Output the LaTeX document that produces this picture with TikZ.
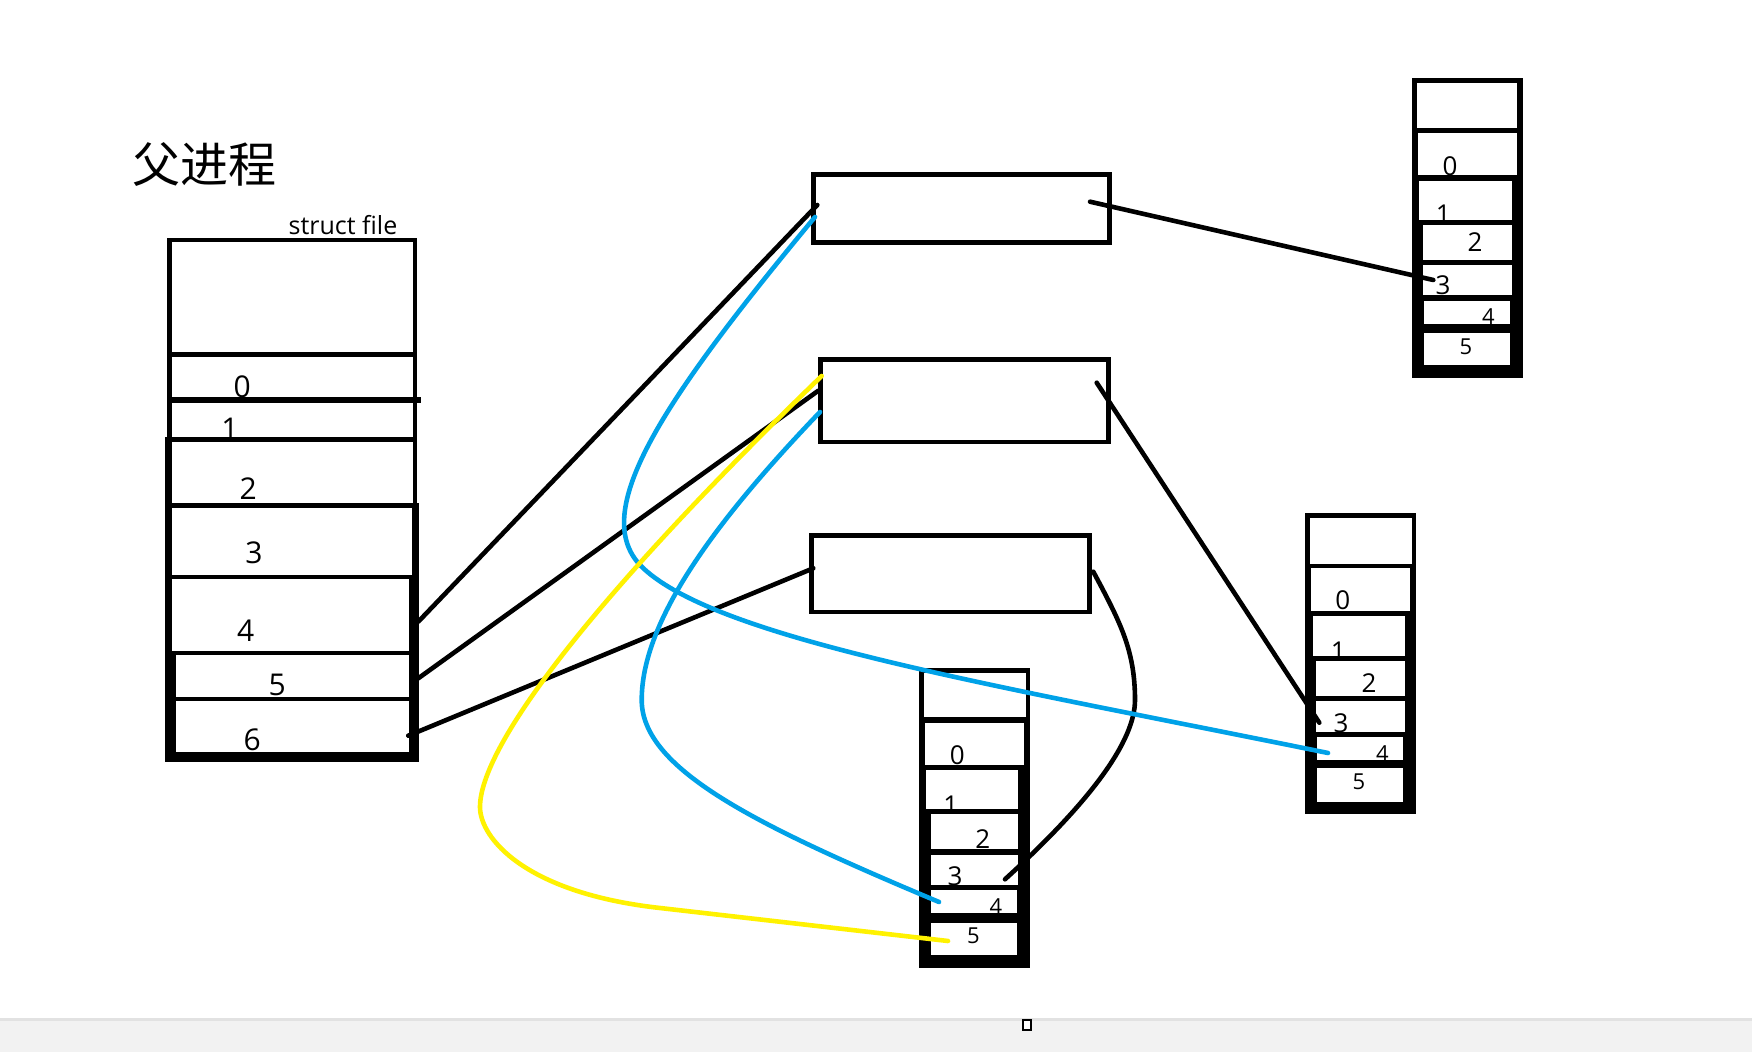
\documentclass[tikz,border=0pt]{standalone}
\usepackage{fontspec}
\setmainfont{Open Sans}
\newfontfamily\cjk{Noto Sans CJK SC}
\definecolor{paintblue}{HTML}{00A2E8}
\definecolor{paintyellow}{HTML}{FFF200}
\definecolor{bandgray}{HTML}{F2F2F2}
\definecolor{bandline}{HTML}{E2E2E2}
\begin{document}
\begin{tikzpicture}[x=0.5pt,y=-0.5pt,
  ink/.style={line width=2.3pt, line cap=round, line join=round},
  blk/.style={ink, draw=black},
  blu/.style={ink, draw=paintblue},
  yel/.style={ink, draw=paintyellow},
  filebox/.style={draw=black, line width=2.3pt, inner sep=0pt, fill=none},
  dbig/.style={inner sep=0pt, font=\fontsize{15}{15}\selectfont},
  dmid/.style={inner sep=0pt, font=\fontsize{13}{13}\selectfont},
  dsml/.style={inner sep=0pt, font=\fontsize{11}{11}\selectfont},
  cell/.style={fill=white}
]
\useasboundingbox (0,0) rectangle (1752,1052);
\fill[white] (0,0) rectangle (1752,1052);
% bottom band
\fill[bandgray] (0,1019) rectangle (1752,1052);
\fill[bandline] (0,1018) rectangle (1752,1021);
\draw[line width=1pt, fill=white] (1023,1020) rectangle (1031,1030);

% title
\node[inner sep=0pt, font=\cjk\fontsize{24}{24}\selectfont] (title) at (204,165) {父进程};
\node[inner sep=0pt, anchor=base, font=\fontsize{12.5}{12.5}\selectfont] (sf) at (343,235) {struct file};

% ---- left table (parent fd table)
\fill (166.7,237.7) rectangle (417,762);
\fill (412,396.7) rectangle (420.7,403.3);
\fill (416,503) rectangle (418.5,762);
\fill (165,437) rectangle (168,762);
\fill[cell] (171.7,241.7) rectangle (412.7,351.7);
\fill[cell] (171.7,356.7) rectangle (412.7,396.7);
\fill[cell] (171.7,403.3) rectangle (412.7,437);
\fill[cell] (171.7,441.7) rectangle (412.7,502.7);
\fill[cell] (171.7,507.7) rectangle (411.7,575);
\fill[cell] (171.7,579.3) rectangle (409.3,650.7);
\fill[cell] (176,655) rectangle (409.3,696.7);
\fill[cell] (176,701) rectangle (409.3,751.7);
\node[dbig] (l0) at (242.3,386.7) {0};
\node[dbig] (l1) at (230,428.3) {1};
\node[dbig] (l2) at (248.3,488.3) {2};
\node[dbig] (l3) at (254,552.3) {3};
\node[dbig] (l4) at (245.7,630.7) {4};
\node[dbig] (l5) at (277.3,685) {5};
\node[dbig] (l6) at (252.3,740) {6};

% ---- right-top table
\fill (1412,78) rectangle (1523,378);
\fill[cell] (1416.7,82.7) rectangle (1516.7,128.3);
\fill[cell] (1418.3,132.7) rectangle (1516.7,175);
\fill[cell] (1419.3,180.7) rectangle (1511.7,220);
\fill[cell] (1423.3,225) rectangle (1511.7,260);
\fill[cell] (1423.3,265) rectangle (1511.7,295);
\fill[cell] (1424.3,300.7) rectangle (1510,324);
\fill[cell] (1424.3,332.7) rectangle (1510,365);
\node[dmid] (a0) at (1450,166) {0};
\node[dmid] (a1) at (1443.3,214) {1};
\node[dmid] (a2) at (1475,241.7) {2};
\node[dmid] (a3) at (1443,285) {3};
\node[dsml] (a4) at (1488.3,316.7) {4};
\node[dsml] (a5) at (1466,346.7) {5};

% ---- right-middle table
\fill (1305,513.3) rectangle (1416,814);
\fill[cell] (1310,518.3) rectangle (1411.7,564);
\fill[cell] (1310.7,568.3) rectangle (1410,610.7);
\fill[cell] (1312.7,616) rectangle (1405,656);
\fill[cell] (1316,660.7) rectangle (1405,696);
\fill[cell] (1316,700.7) rectangle (1405,731.7);
\fill[cell] (1316.7,736.7) rectangle (1403.3,760);
\fill[cell] (1316.7,768.3) rectangle (1403.3,801.7);
\node[dmid] (b0) at (1342.7,600) {0};
\node[dmid] (b1) at (1338.3,651.7) {1};
\node[dmid] (b2) at (1369,683.3) {2};
\node[dmid] (b3) at (1341,723.3) {3};
\node[dsml] (b4) at (1382.3,753.3) {4};
\node[dsml] (b5) at (1359,781.7) {5};

% ---- bottom table
\fill (919.3,668.3) rectangle (1030,968.3);
\fill[cell] (924,672.7) rectangle (1026,716.7);
\fill[cell] (925,722.7) rectangle (1024,765);
\fill[cell] (926,770) rectangle (1018.3,809.3);
\fill[cell] (930.7,814) rectangle (1018.3,849.3);
\fill[cell] (930.7,855) rectangle (1018.3,885);
\fill[cell] (930.7,890) rectangle (1017.3,913.3);
\fill[cell] (930.7,922.7) rectangle (1017.3,955);
\node[dmid] (c0) at (957.3,755) {0};
\node[dmid] (c1) at (950.7,805) {1};
\node[dmid] (c2) at (982.7,839.3) {2};
\node[dmid] (c3) at (955,876.7) {3};
\node[dsml] (c4) at (996,906.7) {4};
\node[dsml] (c5) at (973.3,936) {5};

% ---- struct file boxes
\node[filebox, minimum width=148pt, minimum height=33.8pt] (fa) at (961.7,208.5) {};
\node[filebox, minimum width=144.2pt, minimum height=41.35pt] (fb) at (964.5,400.65) {};
\node[filebox, minimum width=139.2pt, minimum height=38.35pt] (fc) at (950.5,573.65) {};

% ---- connector end points
\coordinate (l4r) at (418.3,621.7);
\coordinate (l5r) at (418.3,678.3);
\coordinate (l6r) at (408.3,735.7);
\coordinate (faL) at (817.3,205);
\coordinate (faB) at (815,217);
\coordinate (faR) at (1090,201.7);
\coordinate (fbY) at (821.7,376);
\coordinate (fbL) at (818.3,390.7);
\coordinate (fbB) at (820,412);
\coordinate (fbR) at (1096.7,382.7);
\coordinate (fcL) at (813.3,568.3);
\coordinate (fcR) at (1093.3,571.7);
\coordinate (a3p) at (1433.3,280);
\coordinate (b3p) at (1319.3,722.7);
\coordinate (b4p) at (1328,753);
\coordinate (c3p) at (1005,879.3);
\coordinate (c4p) at (939,902);
\coordinate (c5p) at (948,941);

% ---- black connectors
\draw[blk] (l4r) -- (faL);
\draw[blk] (l5r) -- (fbL);
\draw[blk] (l6r) -- (fcL);
\draw[blk] (faR) -- (a3p);
\draw[blk] (fbR) -- (b3p);
\draw[blk] (fcR) .. controls (1120,621.7) and (1135,650) .. (1135,700)
                 .. controls (1135,740) and (1093,799.3) .. (c3p);

% ---- blue connectors
\draw[blu] (faB) .. controls (655,409.5) and (588,516) .. (643,568)
                 .. controls (720,640) and (998,685.7) .. (b4p);
\draw[blu] (fbB) .. controls (716.5,520) and (641.7,620) .. (641.7,700)
                 .. controls (641.7,770) and (759,826.4) .. (c4p);

% ---- yellow connector
\draw[yel] (fbY) .. controls (590,600) and (480,747) .. (480,807)
                 .. controls (480,838) and (525,893) .. (660,908) -- (c5p);
\end{tikzpicture}
\end{document}
